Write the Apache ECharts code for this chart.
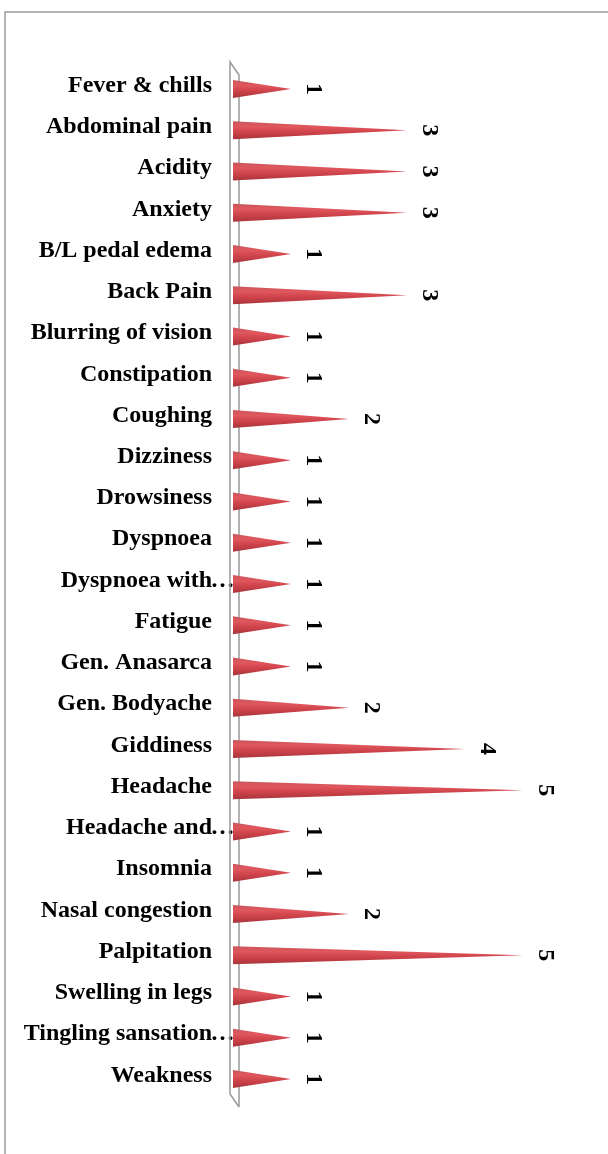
<!DOCTYPE html>
<html>
<head>
<meta charset="utf-8">
<script src="https://cdn.jsdelivr.net/npm/echarts@6/dist/echarts.min.js"></script>
<style>
  html, body { margin: 0; padding: 0; background: #fff; }
  #chart { width: 608px; height: 1154px; }
</style>
</head>
<body>
<div id="chart"></div>
<script>
// Symptom list (top to bottom) and the number of cases for each
const symptoms = [
  'Fever & chills', 'Abdominal pain', 'Acidity', 'Anxiety', 'B/L pedal edema',
  'Back Pain', 'Blurring of vision', 'Constipation', 'Coughing', 'Dizziness',
  'Drowsiness', 'Dyspnoea', 'Dyspnoea with\u2026', 'Fatigue', 'Gen. Anasarca',
  'Gen. Bodyache', 'Giddiness', 'Headache', 'Headache and\u2026', 'Insomnia',
  'Nasal congestion', 'Palpitation', 'Swelling in legs', 'Tingling sansation\u2026', 'Weakness'
];
const counts = [
  1, 3, 3, 3, 1,
  3, 1, 1, 2, 1,
  1, 1, 1, 1, 1,
  2, 4, 5, 1, 1,
  2, 5, 1, 1, 1
];

const GRID = { left: 233, top: 68.5, width: 348, height: 1031 };
const serif = '"Liberation Serif", "DejaVu Serif", serif';

const chart = echarts.init(document.getElementById('chart'), null, { renderer: 'canvas' });

// Cone shading for the spikes
const coneFill = new echarts.graphic.LinearGradient(0, 0, 0, 1, [
  { offset: 0, color: '#c9565c' },
  { offset: 0.3, color: '#e0575d' },
  { offset: 0.6, color: '#cf434b' },
  { offset: 1, color: '#a9353b' }
]);

const option = {
  backgroundColor: '#ffffff',
  animation: false,
  grid: { left: GRID.left, top: GRID.top, width: GRID.width, height: GRID.height, containLabel: false },
  xAxis: {
    type: 'value', min: 0, max: 6, interval: 1,
    show: false
  },
  yAxis: {
    type: 'category',
    data: symptoms,
    inverse: true,
    axisLine: { show: false },
    axisTick: { show: false },
    splitLine: { show: false },
    axisLabel: {
      margin: 0,
      padding: [0, 0, 7, 0],
      formatter: function (v) {
        if (v.endsWith('\u2026')) return '{t|' + v.slice(0, -1) + '}{e|\u2026}';
        return '{t|' + v + '}{s|}';
      },
      rich: {
        t: { fontFamily: serif, fontWeight: 'bold', fontSize: 24, color: '#000' },
        e: { fontFamily: serif, fontWeight: 'bold', fontSize: 24, color: '#000', width: 21, align: 'left' },
        s: { width: 21 }
      }
    }
  },
  series: [{
    type: 'pictorialBar',
    data: counts,
    symbol: 'path://M0,0L100,50L0,100Z',
    symbolSize: ['100%', 18],
    symbolPosition: 'start',
    itemStyle: { color: coneFill },
    label: {
      show: true,
      position: 'right',
      distance: 22,
      rotate: -90,
      align: 'center',
      verticalAlign: 'middle',
      fontFamily: serif,
      fontWeight: 'bold',
      fontSize: 24,
      color: '#000'
    },
    z: 3
  }],
  graphic: [
    // chart frame
    {
      type: 'rect', silent: true, z: 0,
      shape: { x: 5, y: 12, width: 800, height: 1400 },
      style: { fill: null, stroke: '#9c9c9c', lineWidth: 1.5 }
    },
    // 3-D axis wall beside the categories
    {
      type: 'polyline', silent: true, z: 1,
      shape: { points: [[239, 1107], [230, 1094], [230, 62], [239, 75], [239, 1107]] },
      style: { fill: null, stroke: '#9a9a9a', lineWidth: 1.5 }
    }
  ]
};

chart.setOption(option);
</script>
</body>
</html>
